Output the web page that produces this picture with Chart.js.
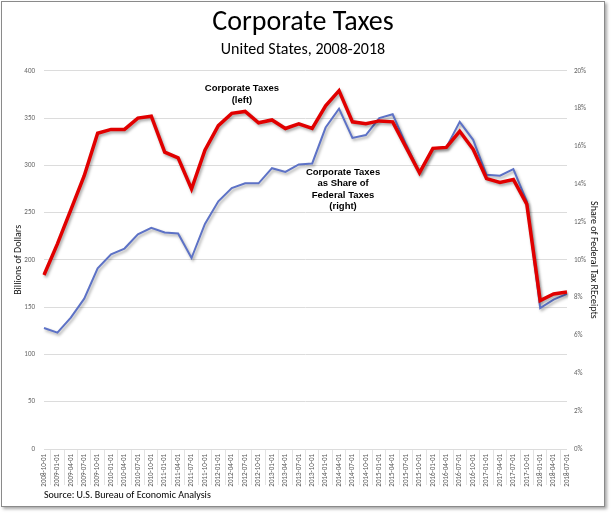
<!DOCTYPE html>
<html>
<head>
<meta charset="utf-8">
<script src="https://cdn.jsdelivr.net/npm/chart.js@4"></script>
<style>
  html, body { margin: 0; padding: 0; background: #fff; }
  #frame { position: absolute; left: 1px; top: 1px; width: 602px; height: 504px; border: 1px solid #8a8a8a; box-shadow: 2px 2px 3px rgba(0,0,0,0.35); background: #fff; }
  canvas { display: block; }
</style>
</head>
<body>
<div id="frame"><canvas id="c" width="602" height="504"></canvas></div>
<script>
const categories = [
  '2008-10-01','2009-01-01','2009-04-01','2009-07-01','2009-10-01',
  '2010-01-01','2010-04-01','2010-07-01','2010-10-01',
  '2011-01-01','2011-04-01','2011-07-01','2011-10-01',
  '2012-01-01','2012-04-01','2012-07-01','2012-10-01',
  '2013-01-01','2013-04-01','2013-07-01','2013-10-01',
  '2014-01-01','2014-04-01','2014-07-01','2014-10-01',
  '2015-01-01','2015-04-01','2015-07-01','2015-10-01',
  '2016-01-01','2016-04-01','2016-07-01','2016-10-01',
  '2017-01-01','2017-04-01','2017-07-01','2017-10-01',
  '2018-01-01','2018-04-01','2018-07-01'
];
// Corporate taxes, billions of dollars (left axis)
const corporateTaxes = [
  184, 217, 253, 289, 334, 338, 338, 350, 352,
  314, 308, 275, 316, 342, 355, 357, 345, 348,
  339, 344, 339, 363, 379, 346, 344, 347, 346,
  319, 292, 318, 319, 336, 317, 286, 282, 285,
  259, 157, 164, 166
];
// Corporate taxes as share of federal tax receipts, percent (right axis)
const shareOfFederal = [
  6.4, 6.15, 6.95, 7.95, 9.55, 10.3, 10.6, 11.35, 11.7,
  11.45, 11.4, 10.1, 11.9, 13.1, 13.8, 14.05, 14.05, 14.85,
  14.65, 15.05, 15.1, 17.0, 18.0, 16.45, 16.6, 17.5, 17.7,
  16.1, 14.6, 15.9, 15.95, 17.3, 16.35, 14.5, 14.45, 14.8,
  13.1, 7.45, 7.9, 8.2
];
const leftTicks = { min: 0, max: 400, step: 50 };
const rightTicks = { min: 0, max: 20, step: 2 };

const FONT = "Carlito, Lato, 'Liberation Sans', sans-serif";

const annotations = [
  { lines: ['Corporate Taxes', '(left)'], xIndex: 14.76, yValue: 381 },
  { lines: ['Corporate Taxes', 'as Share of', 'Federal Taxes', '(right)'], xIndex: 22.3, yValue: 293 }
];

const shadowPlugin = {
  id: 'lineShadow',
  beforeDatasetDraw(chart, args) {
    const ctx = chart.ctx;
    ctx.save();
    ctx.shadowColor = 'rgba(0,0,0,0.35)';
    ctx.shadowBlur = 3;
    ctx.shadowOffsetX = 1.5;
    ctx.shadowOffsetY = 2;
  },
  afterDatasetDraw(chart) { chart.ctx.restore(); }
};

const annotationPlugin = {
  id: 'textNotes',
  afterDatasetsDraw(chart) {
    const ctx = chart.ctx;
    const xs = chart.scales.x, ys = chart.scales.y;
    ctx.save();
    ctx.font = "bold 9.5px 'Liberation Sans', Arial, sans-serif";
    ctx.fillStyle = '#000';
    ctx.textAlign = 'center';
    ctx.textBaseline = 'middle';
    annotations.forEach(a => {
      const x = xs.getPixelForValue(a.xIndex);
      const y = ys.getPixelForValue(a.yValue);
      a.lines.forEach((t, i) => ctx.fillText(t, x, y + i * 11.5));
    });
    ctx.restore();
  }
};

new Chart(document.getElementById('c'), {
  type: 'line',
  data: {
    labels: categories,
    datasets: [
      {
        label: 'Corporate Taxes (left)',
        data: corporateTaxes,
        yAxisID: 'y',
        borderColor: '#e10000',
        borderWidth: 3.5,
        pointRadius: 0,
        tension: 0,
        borderJoinStyle: 'miter'
      },
      {
        label: 'Corporate Taxes as Share of Federal Taxes (right)',
        data: shareOfFederal,
        yAxisID: 'y1',
        borderColor: '#5d72c6',
        borderWidth: 2,
        pointRadius: 0,
        tension: 0
      }
    ]
  },
  options: {
    responsive: false,
    animation: false,
    events: [],
    layout: { padding: { left: 0, right: 0, top: 0, bottom: 5 } },
    plugins: {
      legend: { display: false },
      tooltip: { enabled: false },
      title: {
        display: true,
        text: 'Corporate Taxes',
        color: '#000',
        font: { family: FONT, size: 28, weight: 'normal' },
        padding: { top: 4, bottom: 1 }
      },
      subtitle: {
        display: true,
        text: 'United States, 2008-2018',
        color: '#000',
        font: { family: FONT, size: 16, weight: 'normal' },
        padding: { top: 0, bottom: 11 }
      }
    },
    scales: {
      x: {
        offset: false,
        grid: { display: true, drawOnChartArea: false, drawTicks: true, tickLength: 36, offset: true, color: '#e3e3e3' },
        border: { display: false },
        ticks: {
          autoSkip: false, maxRotation: 90, minRotation: 90, padding: -31,
          color: '#555', font: { family: FONT, size: 7 }
        },
        title: {
          display: true, text: 'Source: U.S. Bureau of Economic Analysis', align: 'start',
          color: '#000', font: { family: FONT, size: 10 }, padding: { top: 0, bottom: 0 }
        },
        afterFit(scale) { scale.height = 52; }
      },
      y: {
        position: 'left',
        min: leftTicks.min, max: leftTicks.max,
        ticks: { stepSize: leftTicks.step, color: '#666', font: { family: FONT, size: 7 }, padding: 9 },
        grid: { color: '#dcdcdc', drawTicks: false, lineWidth: 1 },
        border: { display: false },
        title: {
          display: true, text: 'Billions of Dollars', color: '#111',
          font: { family: FONT, size: 10 }, padding: { top: 10, bottom: 0 }
        },
        afterFit(scale) { scale.width = 42; }
      },
      y1: {
        position: 'right',
        min: rightTicks.min, max: rightTicks.max,
        ticks: { stepSize: rightTicks.step, color: '#666', font: { family: FONT, size: 7 }, padding: 7,
                 callback: v => v + '%' },
        grid: { display: false, drawTicks: false },
        border: { display: false },
        title: {
          display: true, text: 'Share of Federal Tax REceipts', color: '#111',
          font: { family: FONT, size: 10 }, padding: { top: 5, bottom: 0 }
        },
        afterFit(scale) { scale.width = 37; }
      }
    }
  },
  plugins: [shadowPlugin, annotationPlugin]
});
</script>
</body>
</html>
